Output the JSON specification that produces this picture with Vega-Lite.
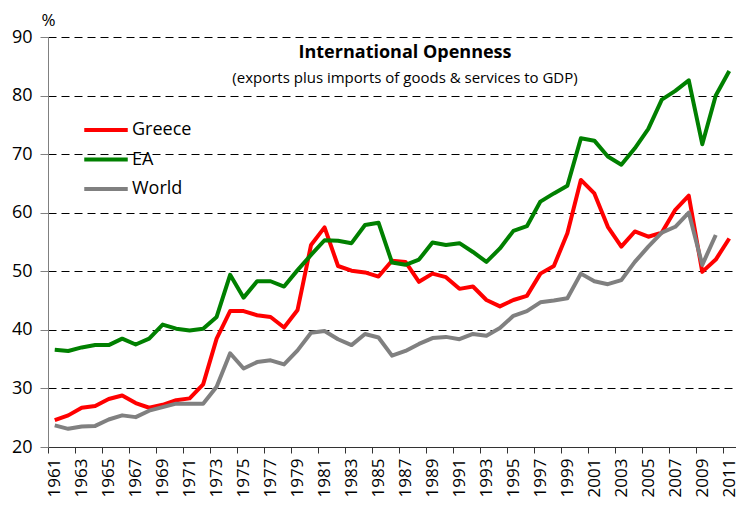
{
  "$schema": "https://vega.github.io/schema/vega-lite/v6.json",
  "width": 688,
  "height": 410,
  "autosize": "none",
  "padding": {"left": 48, "top": 37, "right": 0, "bottom": 58},
  "background": "white",
  "config": {
    "font": "Open Sans",
    "view": {"stroke": null},
    "title": {"font": "Open Sans", "color": "black", "subtitleColor": "black", "subtitleFont": "Open Sans"}
  },
  "title": {
    "text": "International Openness",
    "subtitle": "(exports plus imports of goods & services to GDP)",
    "anchor": "middle",
    "frame": "group",
    "dx": 13,
    "offset": -75,
    "fontSize": 18,
    "fontWeight": "bold",
    "subtitleFontSize": 15,
    "subtitlePadding": 9
  },
  "data": {
    "values": [
      {"year": 1961, "series": "Greece", "value": 24.6},
      {"year": 1962, "series": "Greece", "value": 25.4},
      {"year": 1963, "series": "Greece", "value": 26.7},
      {"year": 1964, "series": "Greece", "value": 27.0},
      {"year": 1965, "series": "Greece", "value": 28.2},
      {"year": 1966, "series": "Greece", "value": 28.8},
      {"year": 1967, "series": "Greece", "value": 27.5},
      {"year": 1968, "series": "Greece", "value": 26.7},
      {"year": 1969, "series": "Greece", "value": 27.2},
      {"year": 1970, "series": "Greece", "value": 28.0},
      {"year": 1971, "series": "Greece", "value": 28.3},
      {"year": 1972, "series": "Greece", "value": 30.7},
      {"year": 1973, "series": "Greece", "value": 38.5},
      {"year": 1974, "series": "Greece", "value": 43.2},
      {"year": 1975, "series": "Greece", "value": 43.2},
      {"year": 1976, "series": "Greece", "value": 42.5},
      {"year": 1977, "series": "Greece", "value": 42.2},
      {"year": 1978, "series": "Greece", "value": 40.4},
      {"year": 1979, "series": "Greece", "value": 43.4},
      {"year": 1980, "series": "Greece", "value": 54.5},
      {"year": 1981, "series": "Greece", "value": 57.5},
      {"year": 1982, "series": "Greece", "value": 50.9},
      {"year": 1983, "series": "Greece", "value": 50.1},
      {"year": 1984, "series": "Greece", "value": 49.8},
      {"year": 1985, "series": "Greece", "value": 49.1},
      {"year": 1986, "series": "Greece", "value": 51.8},
      {"year": 1987, "series": "Greece", "value": 51.6},
      {"year": 1988, "series": "Greece", "value": 48.2},
      {"year": 1989, "series": "Greece", "value": 49.6},
      {"year": 1990, "series": "Greece", "value": 49.0},
      {"year": 1991, "series": "Greece", "value": 47.0},
      {"year": 1992, "series": "Greece", "value": 47.4},
      {"year": 1993, "series": "Greece", "value": 45.1},
      {"year": 1994, "series": "Greece", "value": 44.0},
      {"year": 1995, "series": "Greece", "value": 45.1},
      {"year": 1996, "series": "Greece", "value": 45.8},
      {"year": 1997, "series": "Greece", "value": 49.6},
      {"year": 1998, "series": "Greece", "value": 50.9},
      {"year": 1999, "series": "Greece", "value": 56.5},
      {"year": 2000, "series": "Greece", "value": 65.6},
      {"year": 2001, "series": "Greece", "value": 63.3},
      {"year": 2002, "series": "Greece", "value": 57.6},
      {"year": 2003, "series": "Greece", "value": 54.2},
      {"year": 2004, "series": "Greece", "value": 56.8},
      {"year": 2005, "series": "Greece", "value": 55.9},
      {"year": 2006, "series": "Greece", "value": 56.6},
      {"year": 2007, "series": "Greece", "value": 60.5},
      {"year": 2008, "series": "Greece", "value": 62.9},
      {"year": 2009, "series": "Greece", "value": 49.9},
      {"year": 2010, "series": "Greece", "value": 52.0},
      {"year": 2011, "series": "Greece", "value": 55.6},
      {"year": 1961, "series": "EA", "value": 36.6},
      {"year": 1962, "series": "EA", "value": 36.4},
      {"year": 1963, "series": "EA", "value": 37.0},
      {"year": 1964, "series": "EA", "value": 37.4},
      {"year": 1965, "series": "EA", "value": 37.4},
      {"year": 1966, "series": "EA", "value": 38.5},
      {"year": 1967, "series": "EA", "value": 37.5},
      {"year": 1968, "series": "EA", "value": 38.5},
      {"year": 1969, "series": "EA", "value": 40.9},
      {"year": 1970, "series": "EA", "value": 40.2},
      {"year": 1971, "series": "EA", "value": 39.9},
      {"year": 1972, "series": "EA", "value": 40.2},
      {"year": 1973, "series": "EA", "value": 42.2},
      {"year": 1974, "series": "EA", "value": 49.4},
      {"year": 1975, "series": "EA", "value": 45.5},
      {"year": 1976, "series": "EA", "value": 48.3},
      {"year": 1977, "series": "EA", "value": 48.3},
      {"year": 1978, "series": "EA", "value": 47.4},
      {"year": 1979, "series": "EA", "value": 50.2},
      {"year": 1980, "series": "EA", "value": 52.8},
      {"year": 1981, "series": "EA", "value": 55.3},
      {"year": 1982, "series": "EA", "value": 55.2},
      {"year": 1983, "series": "EA", "value": 54.8},
      {"year": 1984, "series": "EA", "value": 57.9},
      {"year": 1985, "series": "EA", "value": 58.3},
      {"year": 1986, "series": "EA", "value": 51.5},
      {"year": 1987, "series": "EA", "value": 51.1},
      {"year": 1988, "series": "EA", "value": 52.0},
      {"year": 1989, "series": "EA", "value": 54.9},
      {"year": 1990, "series": "EA", "value": 54.5},
      {"year": 1991, "series": "EA", "value": 54.8},
      {"year": 1992, "series": "EA", "value": 53.3},
      {"year": 1993, "series": "EA", "value": 51.6},
      {"year": 1994, "series": "EA", "value": 53.9},
      {"year": 1995, "series": "EA", "value": 56.9},
      {"year": 1996, "series": "EA", "value": 57.7},
      {"year": 1997, "series": "EA", "value": 61.9},
      {"year": 1998, "series": "EA", "value": 63.3},
      {"year": 1999, "series": "EA", "value": 64.6},
      {"year": 2000, "series": "EA", "value": 72.7},
      {"year": 2001, "series": "EA", "value": 72.3},
      {"year": 2002, "series": "EA", "value": 69.6},
      {"year": 2003, "series": "EA", "value": 68.2},
      {"year": 2004, "series": "EA", "value": 71.0},
      {"year": 2005, "series": "EA", "value": 74.3},
      {"year": 2006, "series": "EA", "value": 79.3},
      {"year": 2007, "series": "EA", "value": 80.8},
      {"year": 2008, "series": "EA", "value": 82.6},
      {"year": 2009, "series": "EA", "value": 71.7},
      {"year": 2010, "series": "EA", "value": 80.0},
      {"year": 2011, "series": "EA", "value": 84.2},
      {"year": 1961, "series": "World", "value": 23.7},
      {"year": 1962, "series": "World", "value": 23.1},
      {"year": 1963, "series": "World", "value": 23.5},
      {"year": 1964, "series": "World", "value": 23.6},
      {"year": 1965, "series": "World", "value": 24.7},
      {"year": 1966, "series": "World", "value": 25.4},
      {"year": 1967, "series": "World", "value": 25.1},
      {"year": 1968, "series": "World", "value": 26.2},
      {"year": 1969, "series": "World", "value": 26.8},
      {"year": 1970, "series": "World", "value": 27.4},
      {"year": 1971, "series": "World", "value": 27.4},
      {"year": 1972, "series": "World", "value": 27.4},
      {"year": 1973, "series": "World", "value": 30.3},
      {"year": 1974, "series": "World", "value": 36.0},
      {"year": 1975, "series": "World", "value": 33.4},
      {"year": 1976, "series": "World", "value": 34.5},
      {"year": 1977, "series": "World", "value": 34.8},
      {"year": 1978, "series": "World", "value": 34.1},
      {"year": 1979, "series": "World", "value": 36.5},
      {"year": 1980, "series": "World", "value": 39.5},
      {"year": 1981, "series": "World", "value": 39.8},
      {"year": 1982, "series": "World", "value": 38.4},
      {"year": 1983, "series": "World", "value": 37.4},
      {"year": 1984, "series": "World", "value": 39.3},
      {"year": 1985, "series": "World", "value": 38.7},
      {"year": 1986, "series": "World", "value": 35.6},
      {"year": 1987, "series": "World", "value": 36.4},
      {"year": 1988, "series": "World", "value": 37.6},
      {"year": 1989, "series": "World", "value": 38.6},
      {"year": 1990, "series": "World", "value": 38.8},
      {"year": 1991, "series": "World", "value": 38.4},
      {"year": 1992, "series": "World", "value": 39.3},
      {"year": 1993, "series": "World", "value": 39.0},
      {"year": 1994, "series": "World", "value": 40.3},
      {"year": 1995, "series": "World", "value": 42.4},
      {"year": 1996, "series": "World", "value": 43.2},
      {"year": 1997, "series": "World", "value": 44.7},
      {"year": 1998, "series": "World", "value": 45.0},
      {"year": 1999, "series": "World", "value": 45.4},
      {"year": 2000, "series": "World", "value": 49.6},
      {"year": 2001, "series": "World", "value": 48.3},
      {"year": 2002, "series": "World", "value": 47.8},
      {"year": 2003, "series": "World", "value": 48.5},
      {"year": 2004, "series": "World", "value": 51.6},
      {"year": 2005, "series": "World", "value": 54.2},
      {"year": 2006, "series": "World", "value": 56.6},
      {"year": 2007, "series": "World", "value": 57.6},
      {"year": 2008, "series": "World", "value": 60.0},
      {"year": 2009, "series": "World", "value": 51.1},
      {"year": 2010, "series": "World", "value": 56.2}
    ]
  },
  "mark": {"type": "line", "strokeWidth": 4, "strokeJoin": "round"},
  "encoding": {
    "x": {
      "field": "year",
      "type": "quantitative",
      "scale": {"domain": [1960.5, 2011.5], "nice": false, "zero": false},
      "axis": {
        "title": null,
        "values": [1960.5, 1962.5, 1964.5, 1966.5, 1968.5, 1970.5, 1972.5, 1974.5, 1976.5, 1978.5, 1980.5, 1982.5, 1984.5, 1986.5, 1988.5, 1990.5, 1992.5, 1994.5, 1996.5, 1998.5, 2000.5, 2002.5, 2004.5, 2006.5, 2008.5, 2010.5],
        "labelExpr": "format(datum.value + 0.5, 'd')",
        "labelOffset": 6.75,
        "labelAngle": -90,
        "labelAlign": "right",
        "labelBaseline": "middle",
        "labelFontSize": 17,
        "labelColor": "black",
        "labelPadding": 5,
        "labelOverlap": false,
        "labelFlush": false,
        "labelBound": false,
        "tickSize": 6,
        "tickColor": "#333333",
        "domainColor": "#333333",
        "grid": false
      }
    },
    "y": {
      "field": "value",
      "type": "quantitative",
      "scale": {"domain": [20, 90], "nice": false, "zero": false},
      "axis": {
        "title": "%",
        "titleAngle": 0,
        "titleX": 0,
        "titleY": -17,
        "titleAlign": "center",
        "titleBaseline": "middle",
        "titleFontSize": 17,
        "titleFontWeight": "normal",
        "titleColor": "black",
        "values": [20, 30, 40, 50, 60, 70, 80, 90],
        "labelFontSize": 18,
        "labelColor": "black",
        "labelPadding": 8,
        "tickSize": 8,
        "tickColor": "#808080",
        "domainColor": "#808080",
        "grid": true,
        "gridColor": "black",
        "gridDash": [8, 5],
        "gridWidth": 1
      }
    },
    "color": {
      "field": "series",
      "type": "nominal",
      "scale": {"domain": ["Greece", "EA", "World"], "range": ["#ff0000", "#008000", "#808080"]},
      "legend": {
        "title": null,
        "orient": "none",
        "legendX": 41,
        "legendY": 76,
        "padding": 0,
        "rowPadding": 3.5,
        "symbolType": "M-1.45,0H1.45",
        "symbolSize": 900,
        "symbolStrokeWidth": 4,
        "labelFontSize": 18,
        "labelColor": "black",
        "labelOffset": 9
      }
    }
  }
}
